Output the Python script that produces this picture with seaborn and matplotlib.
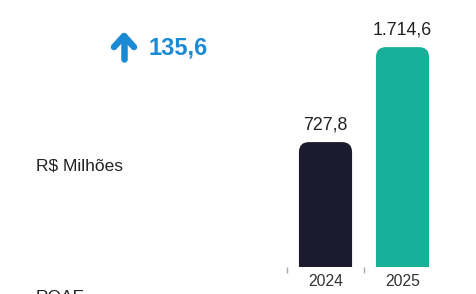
import numpy as np
import pandas as pd
import seaborn as sns
import matplotlib.pyplot as plt
from matplotlib.patches import FancyBboxPatch
from matplotlib.lines import Line2D

# dados
anos = ['2024', '2025']
valores = [727.8, 1714.6]
cores = ['#1c1b2e', '#19b09a']
variacao = 135.6
base = -570  # linha de base do eixo (barras não partem do zero)


def fmt_br(v):
    s = f'{v:,.1f}'
    return s.replace(',', '#').replace('.', ',').replace('#', '.')


df = pd.DataFrame({'ano': anos, 'valor': valores})

sns.set_style('white')
plt.rcParams['font.family'] = ['Liberation Sans', 'DejaVu Sans']

W, H = 476, 294
fig = plt.figure(figsize=(W / 100, H / 100), dpi=100)
ax = fig.add_axes([287 / W, 27 / H, 154 / W, 247 / H])

sns.barplot(data=df, x='ano', y='valor', hue='ano', palette=cores,
            width=0.69, legend=False, ax=ax, saturation=1)

px_y = 10.39
ax.set_xlim(-0.5, 1.5)
ax.set_ylim(base, base + 247 * px_y)

# barras com cantos superiores arredondados
aspect = px_y * 77
for p in ax.patches:
    h = p.get_height()
    p.set_y(base)
    p.set_height(h - base)
    p.set_visible(False)
    fb = FancyBboxPatch((p.get_x(), base - 20 * px_y), p.get_width(), h - base + 20 * px_y,
                        boxstyle='round,pad=0,rounding_size=0.13',
                        mutation_aspect=aspect, facecolor=p.get_facecolor(),
                        edgecolor='none')
    ax.add_patch(fb)

for c in ax.containers:
    ax.bar_label(c, labels=[fmt_br(v) for v in c.datavalues], padding=6,
                 fontsize=12.8, color='#222222')

for s in ax.spines.values():
    s.set_visible(False)
ax.set_yticks([])
ax.set_xlabel('')
ax.set_ylabel('')
ax.set_xticks([0, 1])
ax.set_xticklabels(anos, fontsize=11.3, color='#333333')
ax.tick_params(axis='x', which='major', length=0, pad=5)
ax.set_xticks([-0.5, 0.5], minor=True)
ax.tick_params(axis='x', which='minor', bottom=True, length=4, width=1,
               color='#aaaaaa', pad=1)

# seta (ícone) e variação
azul = '#1a8ad4'
for xs, ys in [([124, 124], [36, 59]), ([114, 124, 134], [47, 36, 47])]:
    fig.add_artist(Line2D([x / W for x in xs], [1 - y / H for y in ys],
                          transform=fig.transFigure, color=azul, lw=4.7,
                          solid_capstyle='round', solid_joinstyle='round'))
fig.text(148 / W, 1 - 46 / H, fmt_br(variacao), fontsize=17, fontweight='bold',
         color=azul, ha='left', va='center_baseline')
fig.text(36 / W, 1 - 166 / H, 'R$ Milhões', fontsize=12.5, color='#222222',
         ha='left', va='center')
fig.text(36 / W, 1 - 301.5 / H, 'ROAE', fontsize=12.5, color='#222222',
         ha='left', va='baseline')

fig.savefig('out.png', dpi=100)
